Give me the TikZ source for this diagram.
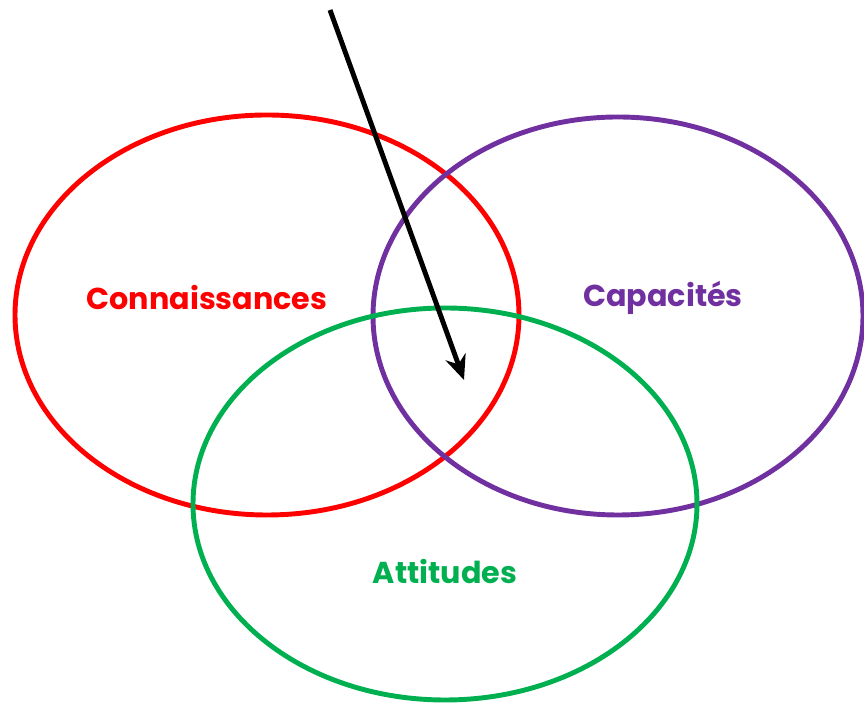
\documentclass[tikz,border=0pt]{standalone}
\usepackage{fontspec}
\setmainfont{Poppins}
\usetikzlibrary{arrows.meta}
\definecolor{vennred}{HTML}{FF0000}
\definecolor{vennpurple}{HTML}{7030A0}
\definecolor{venngreen}{HTML}{00B050}
\tikzset{
  ring/.style={line width=2.8pt},
  tag/.style={font=\fontsize{17.2}{20}\selectfont\bfseries},
}
\begin{document}
\begin{tikzpicture}
            \useasboundingbox (0,0) rectangle (17.28,14.06);
            \draw[ring,vennred] (5.34,7.76) ellipse (5.04 and 4.0);
            \draw[ring,vennpurple] (12.36,7.74) ellipse (4.9 and 3.98);
            \draw[ring,venngreen] (8.9,3.98) ellipse (5.04 and 3.92);
            \node[tag,vennred] (conn) at (4.14,8.1) {Connaissances};
            \node[tag,vennpurple] (capa) at (13.26,8.1) {Capacités};
            \node[tag,venngreen] (atti) at (8.9,2.62) {Attitudes};
            \coordinate (start) at (6.6,13.86);
            \coordinate (tip) at (9.28,6.46);
            \draw[line width=2.8pt,-{Stealth[length=14pt,width=12pt]}] (start) -- (tip);
        \end{tikzpicture}
\end{document}
